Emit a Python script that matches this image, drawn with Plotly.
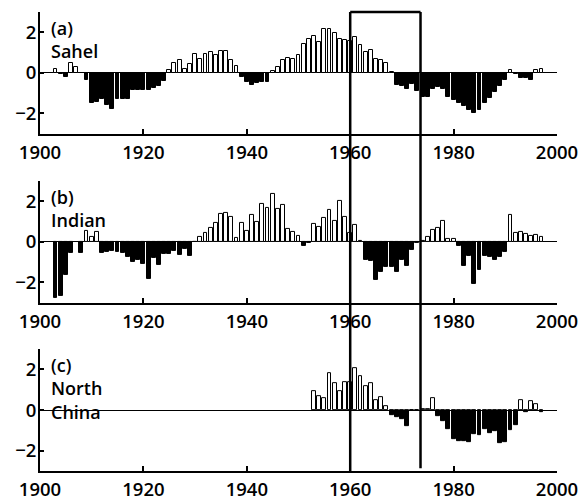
import plotly.graph_objects as go

years = list(range(1900, 2000))

sahel = [None, None, None, 0.18, -0.05, -0.22, 0.5, 0.28, 0.0, -0.35,
         -1.5, -1.45, -1.3, -1.6, -1.8, -1.3, -1.3, -1.3, -0.85, -0.85,
         -0.85, -0.85, -0.75, -0.65, -0.4, 0.13, 0.5, 0.65, 0.2, 0.45,
         0.95, 0.7, 0.95, 1.05, 0.87, 1.1, 1.08, 0.65, 0.32, -0.22,
         -0.45, -0.62, -0.5, -0.46, -0.46, 0.1, 0.27, 0.62, 0.75, 0.7,
         0.9, 1.44, 1.69, 1.8, 1.52, 2.18, 2.18, 1.97, 1.66, 1.6,
         1.57, 1.77, 1.36, 1.03, 1.15, 0.7, 0.62, 0.5, 0.02, -0.6,
         -0.65, -0.8, -0.55, -0.88, -1.2, -1.2, -0.8, -0.7, -0.77, -1.18,
         -1.34, -1.5, -1.64, -1.84, -2.0, -1.84, -1.5, -1.26, -0.93, -0.65,
         -0.36, 0.13, -0.05, -0.23, -0.23, -0.33, 0.13, 0.2, None, None]

indian = [None, None, None, -2.75, -2.65, -1.65, -0.57, None, -0.57, 0.52,
          0.22, 0.48, -0.57, -0.5, -0.47, -0.5, -0.55, -0.75, -1.0, -0.9,
          -1.1, -1.85, -0.8, -1.15, -0.6, -0.6, -0.45, -0.65, -0.35, -0.7,
          -0.03, 0.22, 0.43, 0.66, 0.95, 1.37, 1.42, 1.22, 0.17, 0.95,
          0.56, 1.32, 0.97, 1.88, 1.66, 2.36, 1.6, 1.8, 0.65, 0.48,
          0.3, -0.2, -0.06, 0.9, 0.72, 1.17, 1.55, 1.05, 2.0, 1.23,
          0.45, 0.82, 0.03, -0.9, -0.95, -1.9, -1.5, -1.24, -1.24, -1.5,
          -0.9, -1.19, -0.4, -0.05, 0.05, 0.25, 0.58, 0.7, 1.03, 0.16,
          0.15, -0.18, -1.2, -0.72, -2.1, -1.4, -0.72, -0.75, -0.87, -0.76,
          -0.52, 1.32, 0.44, 0.5, 0.4, 0.28, 0.36, 0.25, None, None]

north_china = [None] * 53 + [
    0.95, 0.67, 0.6, 1.82, 1.33, 0.92, 1.36,
    1.36, 2.07, 1.66, 1.2, 1.33, 0.5, 0.62, 0.18, -0.23, -0.34,
    -0.44, -0.77, -0.02, 0.02, 0.03, 0.04, 0.59, -0.28, -0.56, -0.95,
    -1.45, -1.55, -1.55, -1.6, -1.2, -1.25, -0.95, -1.15, -1.05, -1.65,
    -1.6, -1.0, -0.75, 0.51, -0.12, 0.46, 0.31, -0.1, None, None]

panel_labels = ["(a)<br>Sahel", "(b)<br>Indian", "(c)<br>North<br>China"]
x_ticks = [1900, 1920, 1940, 1960, 1980, 2000]
y_ticks = [-2, 0, 2]
highlight = [1960, 1973.6]

series = [sahel, indian, north_china]

# layout geometry (pixels)
W, H = 581, 502
plot_top, plot_bot = 11.8, 471.0
ph = plot_bot - plot_top
panel_px = [(11.8, 133.6), (180.8, 302.6), (349.1, 471.0)]
def frac(py):
    return (plot_bot - py) / ph

fig = go.Figure()
tickfont = dict(family="Open Sans", size=18.5, color="black", weight=600)

for i, vals in enumerate(series):
    xs = [y for y, v in zip(years, vals) if v is not None]
    vs = [v for v in vals if v is not None]
    cols = ["white" if v >= 0 else "black" for v in vs]
    sfx = "" if i == 0 else str(i + 1)
    fig.add_trace(go.Bar(x=xs, y=vs, width=0.75,
                         marker=dict(color=cols, line=dict(color="black", width=1)),
                         xaxis="x" + sfx, yaxis="y" + sfx, showlegend=False,
                         hoverinfo="x+y"))
    top, bot = panel_px[i]
    fig.layout["xaxis" + sfx] = dict(
        domain=[0, 1], range=[1900, 2000], anchor="y" + sfx, automargin=False,
        showline=True, linecolor="black", linewidth=1.5,
        ticks="inside", ticklen=5, tickwidth=1.5, tickcolor="black",
        tickvals=x_ticks, tickfont=tickfont, showgrid=False, zeroline=False,
        ticklabelstandoff=1)
    fig.layout["yaxis" + sfx] = dict(
        domain=[frac(bot), frac(top)], range=[-3, 3], anchor="x" + sfx, automargin=False,
        showline=True, linecolor="black", linewidth=2,
        ticks="inside", ticklen=4, tickwidth=1.5, tickcolor="black",
        tickvals=y_ticks, tickfont=tickfont, showgrid=False,
        zeroline=True, zerolinecolor="black", zerolinewidth=1.2,
        ticklabelstandoff=-2)
    fig.add_annotation(text=panel_labels[i], xref="paper", yref="paper",
                       x=(49 - 40) / (W - 40 - 23.5), y=frac(top + 2),
                       xanchor="left", yanchor="top", align="left", showarrow=False,
                       font=dict(family="Open Sans", size=18, color="black", weight=600))

y_top = frac(11.7)
fig.add_shape(type="line", xref="x", yref="paper", x0=highlight[0], x1=highlight[1],
              y0=y_top, y1=y_top, line=dict(color="black", width=2.5))
fig.add_shape(type="line", xref="x", yref="paper", x0=highlight[0], x1=highlight[0],
              y0=y_top, y1=frac(471.5), line=dict(color="black", width=2.5))
fig.add_shape(type="line", xref="x", yref="paper", x0=highlight[1], x1=highlight[1],
              y0=y_top, y1=frac(468.3), line=dict(color="black", width=2.5))

fig.update_layout(width=W, height=H, margin=dict(l=40, r=23.5, t=plot_top, b=H - plot_bot),
                  plot_bgcolor="white", paper_bgcolor="white", bargap=0,
                  font=dict(family="Open Sans", color="black"))

fig.write_html("out.html")
